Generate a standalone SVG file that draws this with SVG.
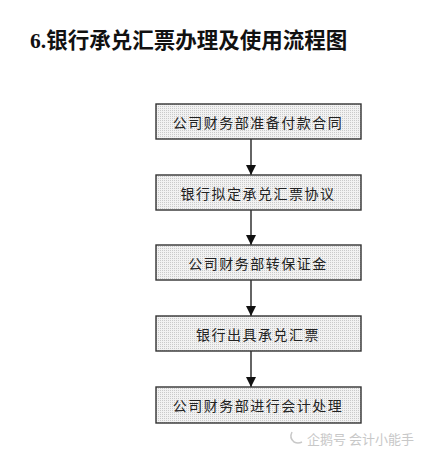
<svg xmlns="http://www.w3.org/2000/svg" width="440" height="456" viewBox="0 0 440 456">
<defs>
<pattern id="dots" width="2" height="2" patternUnits="userSpaceOnUse">
<rect width="2" height="2" fill="#f2f2f2"/>
<rect width="1" height="1" fill="#cacaca"/>
</pattern>
<marker id="arr" viewBox="0 0 10 10" refX="10" refY="5" markerWidth="10" markerHeight="10" markerUnits="userSpaceOnUse" orient="auto">
<path d="M0,0 L10,5 L0,10 Z" fill="#111"/>
</marker>
</defs>
<style>
.box{fill:url(#dots);stroke:#333;stroke-width:1.4}
.lbl{font-family:"Noto Sans CJK SC","Noto Sans CJK JP",sans-serif;font-size:14px;fill:#222;text-anchor:middle;letter-spacing:1.5px}
.conn{stroke:#111;stroke-width:1.3;fill:none;marker-end:url(#arr)}
.title{font-family:"Liberation Serif","Noto Sans CJK SC",serif;font-size:21.5px;font-weight:bold;fill:#111}
.wm{font-family:"Noto Sans CJK SC",sans-serif;font-size:13px;fill:#c8c8c8}
</style>
<rect width="440" height="456" fill="#fff"/>
<text class="title" x="30" y="48">6.银行承兑汇票办理及使用流程图</text>
<g id="connectors">
<line class="conn" x1="251" y1="139" x2="251" y2="175"/>
<line class="conn" x1="251" y1="210" x2="251" y2="245"/>
<line class="conn" x1="251" y1="280" x2="251" y2="316"/>
<line class="conn" x1="251" y1="351" x2="251" y2="387"/>
</g>
<g id="n1"><rect class="box" x="156" y="104" width="205" height="35"/><text class="lbl" x="258" y="128">公司财务部准备付款合同</text></g>
<g id="n2"><rect class="box" x="156" y="175" width="205" height="35"/><text class="lbl" x="258" y="199">银行拟定承兑汇票协议</text></g>
<g id="n3"><rect class="box" x="156" y="245" width="205" height="35"/><text class="lbl" x="258" y="269">公司财务部转保证金</text></g>
<g id="n4"><rect class="box" x="156" y="316" width="205" height="35"/><text class="lbl" x="258" y="340">银行出具承兑汇票</text></g>
<g id="n5"><rect class="box" x="156" y="387" width="205" height="36"/><text class="lbl" x="258" y="411">公司财务部进行会计处理</text></g>
<g id="watermark">
<path d="M292,432 q-3,6 2,10 q4,2 8,0" fill="none" stroke="#c8c8c8" stroke-width="1.5"/>
<text class="wm" x="307" y="444">企鹅号 会计小能手</text>
</g>
</svg>
